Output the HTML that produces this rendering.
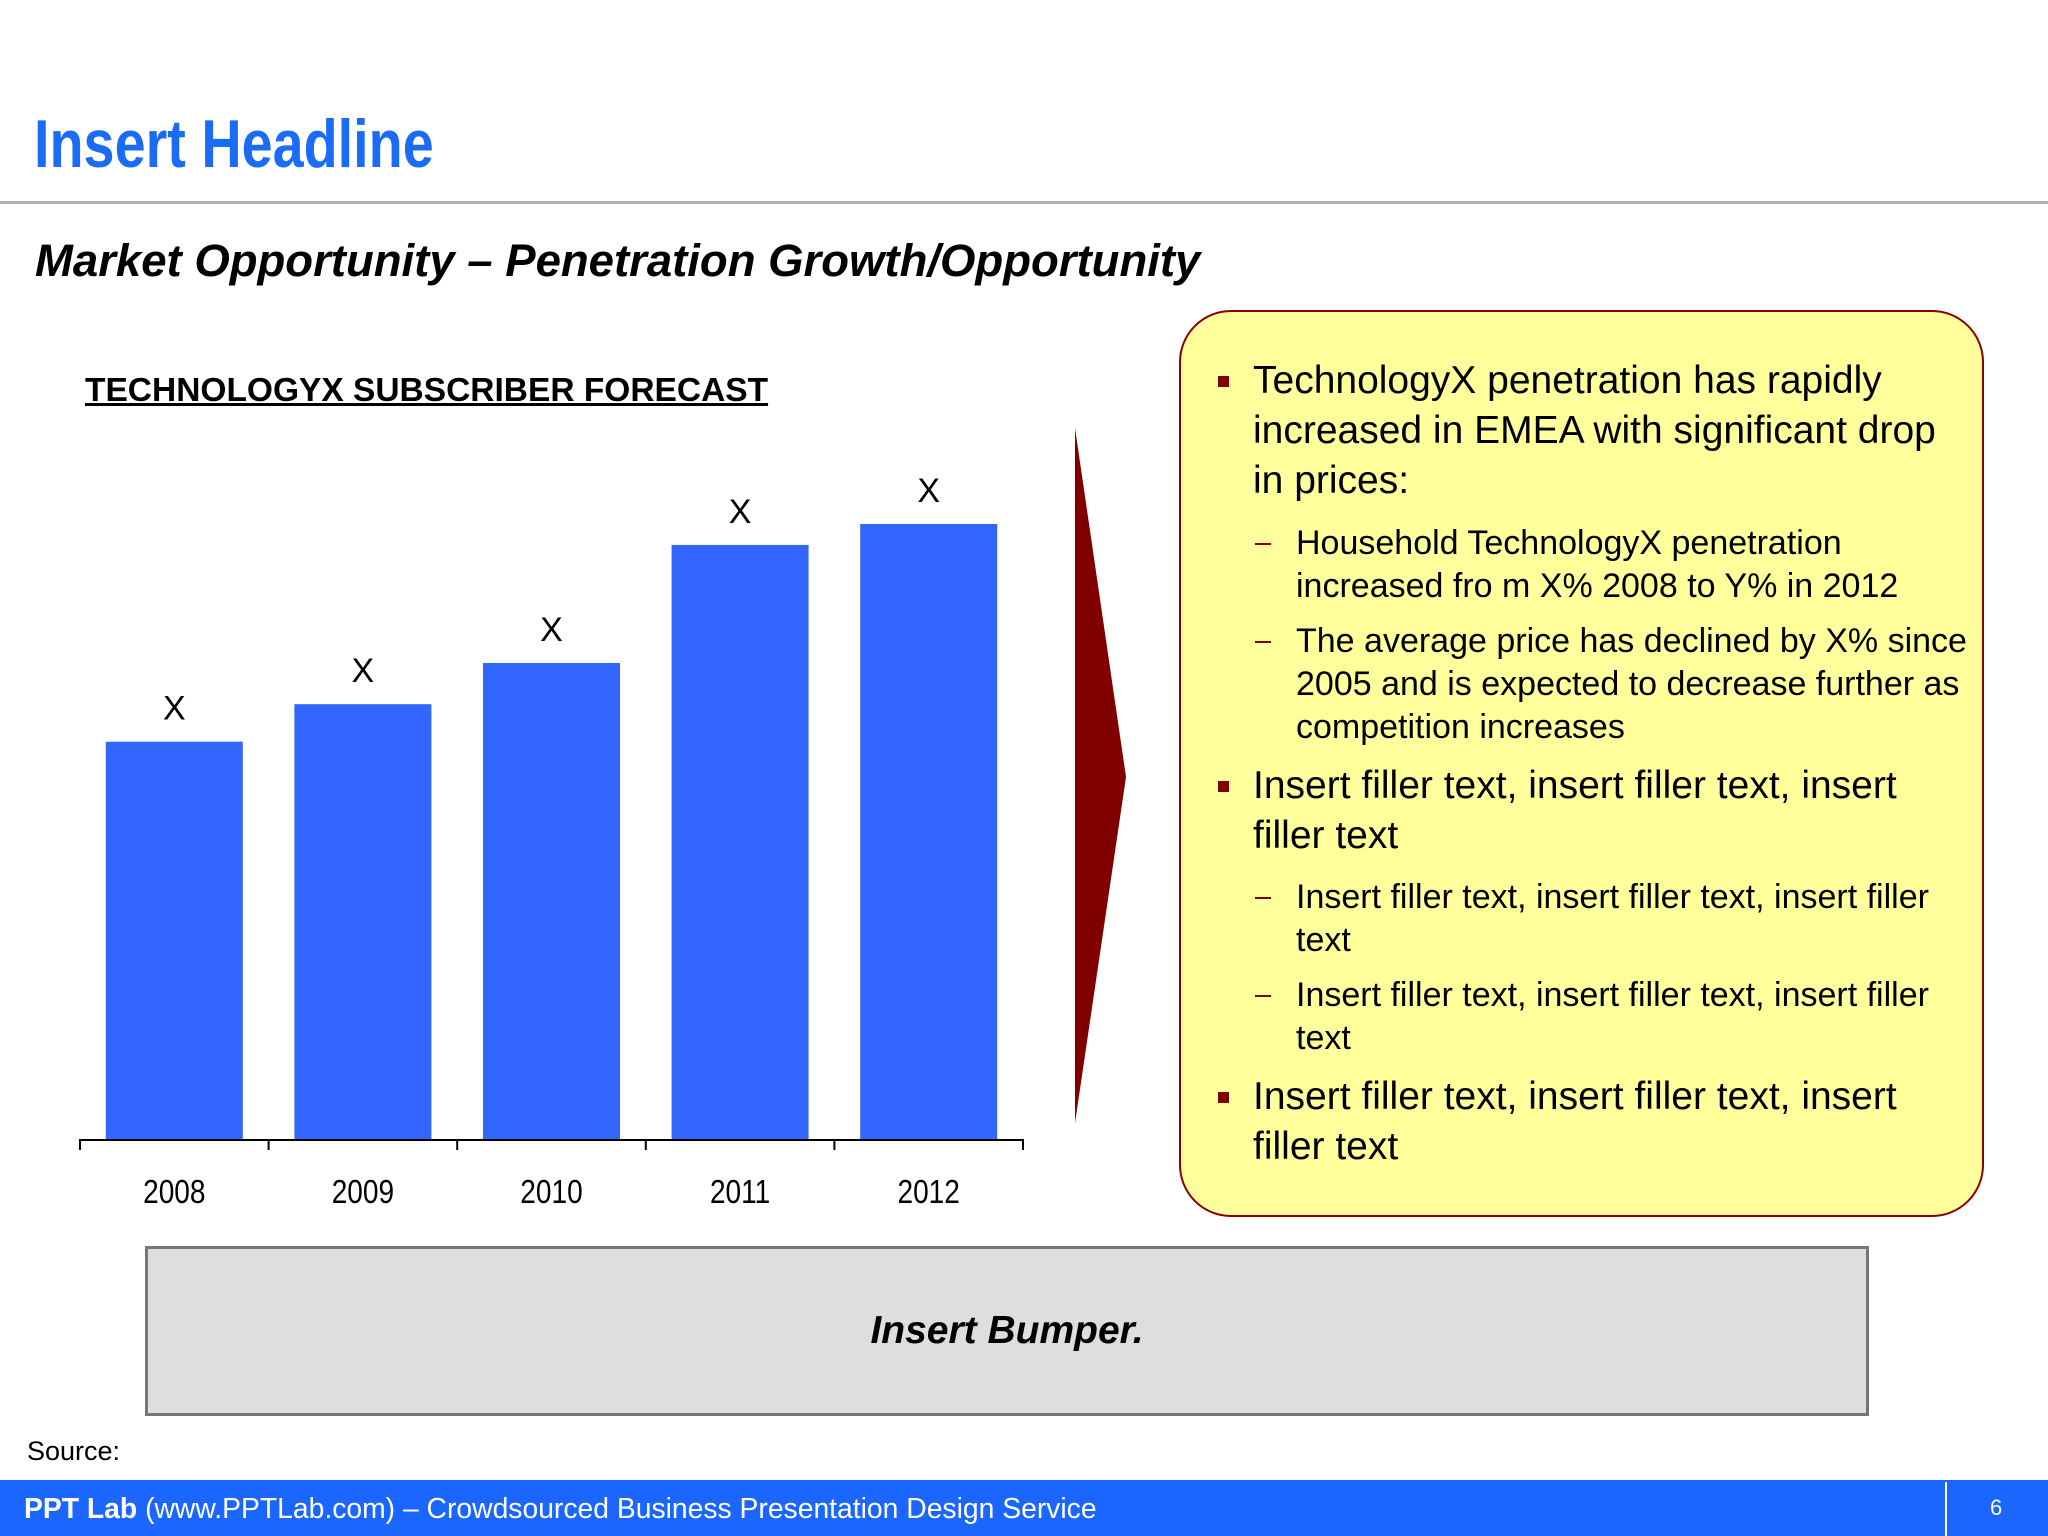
<!DOCTYPE html>
<html><head><meta charset="utf-8"><style>
*{margin:0;padding:0;box-sizing:border-box}
body{width:2048px;height:1536px;position:relative;background:#fff;font-family:"Liberation Sans",Arial,sans-serif;overflow:hidden}
.a{position:absolute;white-space:nowrap}
.l1{font-size:39px;height:50px;line-height:50px;left:1253px;color:#000}
.l2{font-size:34px;height:43px;line-height:43px;left:1296px;color:#000}
.sq{position:absolute;left:1218px;width:11px;height:11px;background:#800000}
.dash{position:absolute;left:1255px;width:16px;height:2px;background:#800000}
</style></head><body>
<div class="a" style="left:34px;top:104px;font-weight:bold;font-size:68px;line-height:80px;color:#1a6cf5;transform:scaleX(0.82);transform-origin:0 0">Insert Headline</div>
<div class="a" style="left:0;top:201px;width:2048px;height:3px;background:#b0b0b0"></div>
<div class="a" style="left:35px;top:233px;font-weight:bold;font-style:italic;font-size:45.5px;line-height:56px;color:#000">Market Opportunity – Penetration Growth/Opportunity</div>
<div class="a" style="left:85px;top:371px;font-weight:bold;font-size:33.5px;line-height:40px;text-decoration:underline;color:#000">TECHNOLOGYX SUBSCRIBER FORECAST</div>

<svg class="a" style="left:0;top:0" width="1100" height="1240" id="chart"></svg>

<svg class="a" style="left:0;top:0" width="1200" height="1200"><polygon points="1075,428 1126,777 1075,1123" fill="#800000"/></svg>

<div class="a" style="left:1179px;top:310px;width:805px;height:907px;background:#ffff9c;border:2px solid #8b0000;border-radius:52px"></div>
<div>
<div class="sq" style="top:376px"></div>
<div class="a l1" style="top:356px">TechnologyX penetration has rapidly</div>
<div class="a l1" style="top:406px">increased in EMEA with significant drop</div>
<div class="a l1" style="top:456px">in prices:</div>
<div class="dash" style="top:543px"></div>
<div class="a l2" style="top:522px">Household TechnologyX penetration</div>
<div class="a l2" style="top:565px">increased fro m X% 2008 to Y% in 2012</div>
<div class="dash" style="top:641px"></div>
<div class="a l2" style="top:620px">The average price has declined by X% since</div>
<div class="a l2" style="top:663px">2005 and is expected to decrease further as</div>
<div class="a l2" style="top:706px">competition increases</div>
<div class="sq" style="top:781px"></div>
<div class="a l1" style="top:761px">Insert filler text, insert filler text, insert</div>
<div class="a l1" style="top:811px">filler text</div>
<div class="dash" style="top:897px"></div>
<div class="a l2" style="top:876px">Insert filler text, insert filler text, insert filler</div>
<div class="a l2" style="top:919px">text</div>
<div class="dash" style="top:995px"></div>
<div class="a l2" style="top:974px">Insert filler text, insert filler text, insert filler</div>
<div class="a l2" style="top:1017px">text</div>
<div class="sq" style="top:1092px"></div>
<div class="a l1" style="top:1072px">Insert filler text, insert filler text, insert</div>
<div class="a l1" style="top:1122px">filler text</div>
</div>

<div class="a" style="left:145px;top:1246px;width:1724px;height:170px;background:#dedede;border:3px solid #777"></div>
<div class="a" style="left:145px;width:1724px;top:1308px;text-align:center;font-weight:bold;font-style:italic;font-size:39px;line-height:46px">Insert Bumper.</div>
<div class="a" style="left:27px;top:1435px;font-size:27px;line-height:32px">Source:</div>

<div class="a" style="left:0;top:1480px;width:2048px;height:56px;background:#1a66ff"></div>
<div class="a" style="left:24px;top:1490px;font-size:28.3px;line-height:36px;color:#fff"><b>PPT Lab</b> (www.PPTLab.com) – Crowdsourced Business Presentation Design Service</div>
<div class="a" style="left:1945px;top:1482px;width:2px;height:54px;background:#fff"></div>
<div class="a" style="left:1990px;top:1493px;font-size:22px;line-height:30px;color:#fff">6</div>

<script>
const categories=["2008","2009","2010","2011","2012"];
const values=[64.6,70.7,77.4,96.6,100];
const valueLabels=["X","X","X","X","X"];
const svg=document.getElementById('chart');
const NS="http://www.w3.org/2000/svg";
const axisY=1139, pxPerUnit=6.15, x0=80, step=188.6, barW=137;
function yScale(v){return axisY-v*pxPerUnit;}
function xScale(i){return x0+step*i+step/2;}
function mk(t,a){const e=document.createElementNS(NS,t);for(const k in a)e.setAttribute(k,a[k]);svg.appendChild(e);return e;}
categories.forEach((c,i)=>{
  const cx=xScale(i), top=yScale(values[i]);
  const r=mk('rect',{x:cx-barW/2,y:top,width:barW,height:axisY-top,fill:'#3366ff'});
  
  
  const t=mk('text',{x:cx,y:top-22,'text-anchor':'middle','font-size':34,'font-family':'Liberation Sans, sans-serif'});
  t.textContent=valueLabels[i];
  
  
  const xl=mk('text',{x:cx,y:1203,'text-anchor':'middle','font-size':33,'font-family':'Liberation Sans, sans-serif',transform:'translate('+cx+',0) scale(0.85,1) translate('+(-cx)+',0)'});
  xl.textContent=c;
  
  
});
const ax=mk('line',{x1:x0,y1:axisY+1,x2:x0+step*categories.length,y2:axisY+1,stroke:'#000','stroke-width':2});


for(let i=0;i<=categories.length;i++){
  const tk=mk('line',{x1:x0+step*i,y1:axisY,x2:x0+step*i,y2:axisY+11,stroke:'#000','stroke-width':2});
  
  
}
</script>
</body></html>
